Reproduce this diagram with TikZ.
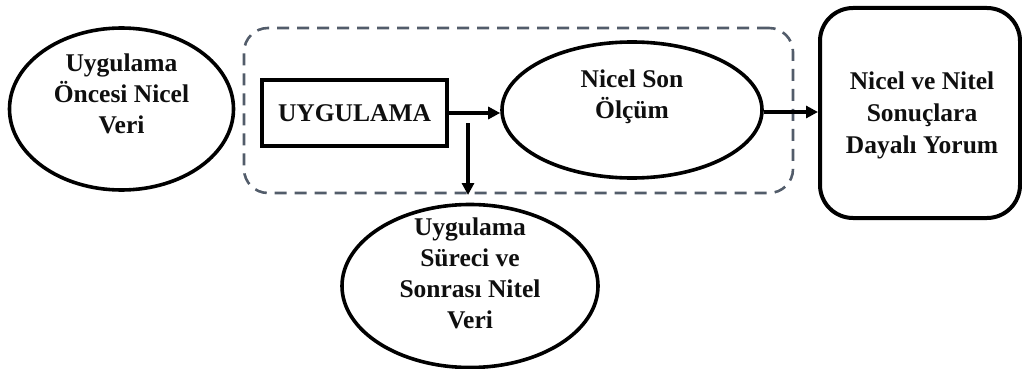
\documentclass[tikz,border=0pt]{standalone}
\usepackage{fontspec}
\setmainfont{Liberation Serif}
\usetikzlibrary{shapes.geometric,arrows.meta}
\definecolor{dashgray}{RGB}{82,92,106}
\definecolor{inkblack}{RGB}{15,15,15}
\tikzset{
  oval/.style={ellipse, draw=black, line width=3.6pt, inner sep=0pt, fill=white},
  txt/.style={align=center, text=inkblack, font=\bfseries\fontsize{25.5}{31}\selectfont, inner sep=0pt},
  arr/.style={draw=black, line width=3.4pt, -{Triangle[length=12pt,width=12pt]}},
}
\begin{document}
\begin{tikzpicture}[x=1pt,y=-1pt]
\useasboundingbox (0,0) rectangle (1022,369);
% dashed group
\node[draw=dashgray, dash pattern=on 12pt off 8pt, line width=2.6pt, rounded corners=24pt,
      minimum width=549pt, minimum height=165pt, inner sep=0pt] (group) at (518.5,110.5) {};
% left ellipse
\node[oval, minimum width=224pt, minimum height=162pt] (pre) at (121.5,109) {};
\node[txt] (pretxt) at (121.5,94) {Uygulama\\Öncesi Nicel\\Veri};
% UYGULAMA rectangle
\node[draw=black, line width=4pt, minimum width=185pt, minimum height=66pt, inner sep=0pt,
      txt] (uyg) at (354.5,113) {UYGULAMA};
% Nicel Son ellipse
\node[oval, minimum width=260pt, minimum height=136pt] (son) at (632,110) {};
\node[txt] (sontxt) at (632,97) {Nicel Son\\Ölçüm};
% right box
\node[draw=black, line width=4pt, rounded corners=33pt, minimum width=200pt, minimum height=210pt,
      inner sep=0pt] (yorum) at (920,113) {};
\node[txt, font=\bfseries\fontsize{25.5}{32}\selectfont] (yorumtxt) at (922,115) {Nicel ve Nitel\\Sonuçlara\\Dayalı Yorum};
% bottom ellipse
\node[oval, minimum width=256pt, minimum height=163pt] (nitel) at (470,286) {};
\node[txt] (niteltxt) at (470,273) {Uygulama\\Süreci ve\\Sonrası Nitel\\Veri};
% connectors
\draw[arr] (uyg.east) -- (uyg.east -| son.west);
\draw[arr] (son.east |- 0,112) -- (yorum.west |- 0,112);
\coordinate (vstart) at (468,123);
\draw[arr] (vstart) -- (vstart |- 0,195);
\end{tikzpicture}
\end{document}
